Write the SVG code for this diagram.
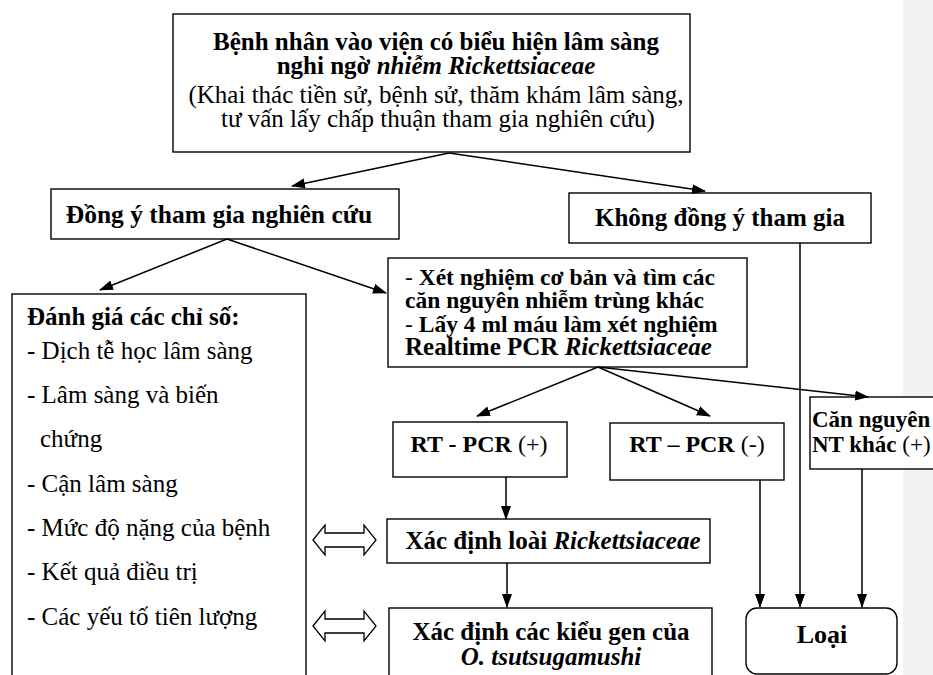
<svg xmlns="http://www.w3.org/2000/svg" width="933" height="675" viewBox="0 0 933 675">
<style>
.box{fill:#fff;stroke:#000;stroke-width:1.4}
.t{font-family:'Liberation Serif','Tinos','Times New Roman','Nimbus Roman','DejaVu Serif',serif;font-size:25px;fill:#000}
.b{font-weight:bold}
.i{font-style:italic}
.n{font-weight:normal}
.m{text-anchor:middle}
.s235{font-size:23.5px}
.s24{font-size:24px}
.s23{font-size:23px}
.s255{font-size:25.5px}
.s26{font-size:26px}
.c{fill:none;stroke:#000;stroke-width:1.5}
.dbl{fill:#fff;stroke:#000;stroke-width:1.3}
</style>
<defs>
<marker id="ah" markerWidth="14" markerHeight="10" refX="13" refY="5" orient="auto" markerUnits="userSpaceOnUse">
<path d="M0,0 L14,5 L0,10 z" fill="#000"/>
</marker>
</defs>
<rect x="0" y="0" width="933" height="675" fill="#fff"/>
<rect x="903" y="0" width="30" height="675" fill="#f2f2f2"/>

<g id="n-start">
<rect class="box" x="173" y="14" width="517" height="138"/>
<text class="t b m" x="436" y="50">Bệnh nhân vào viện có biểu hiện lâm sàng</text>
<text class="t b m" x="436" y="74">nghi ngờ <tspan class="i">nhiễm Rickettsiaceae</tspan></text>
<text class="t m" x="436" y="103">(Khai thác tiền sử, bệnh sử, thăm khám lâm sàng,</text>
<text class="t m" x="438" y="127">tư vấn lấy chấp thuận tham gia nghiên cứu)</text>
</g>

<g id="n-dongy">
<rect class="box" x="51" y="189" width="348" height="50"/>
<text class="t b m s255" x="219" y="223">Đồng ý tham gia nghiên cứu</text>
</g>

<g id="n-khong">
<rect class="box" x="569" y="193" width="302" height="50"/>
<text class="t b m" x="720" y="226">Không đồng ý tham gia</text>
</g>

<g id="n-danhgia">
<rect class="box" x="12" y="294" width="294" height="400"/>
<text class="t b" x="27" y="325">Đánh giá các chỉ số:</text>
<text class="t" x="27" y="359">- Dịch tễ học lâm sàng</text>
<text class="t" x="27" y="403">- Lâm sàng và biến</text>
<text class="t" x="40" y="447">chứng</text>
<text class="t" x="27" y="492">- Cận lâm sàng</text>
<text class="t" x="27" y="536">- Mức độ nặng của bệnh</text>
<text class="t" x="27" y="580">- Kết quả điều trị</text>
<text class="t" x="27" y="625">- Các yếu tố tiên lượng</text>
</g>

<g id="n-xetnghiem">
<rect class="box" x="388" y="258" width="359" height="109"/>
<text class="t b s235" x="405" y="285"><tspan class="n">- </tspan>Xét nghiệm cơ bản và tìm các</text>
<text class="t b s235" x="405" y="308">căn nguyên nhiễm trùng khác</text>
<text class="t b s235" x="405" y="332"><tspan class="n">- </tspan>Lấy 4 ml máu làm xét nghiệm</text>
<text class="t b" x="405" y="355">Realtime PCR <tspan class="i">Rickettsiaceae</tspan></text>
</g>

<g id="n-rtpos">
<rect class="box" x="393" y="422" width="174" height="55"/>
<text class="t b m s24" x="479" y="452">RT - PCR <tspan class="n">(+)</tspan></text>
</g>

<g id="n-rtneg">
<rect class="box" x="610" y="423" width="174" height="57"/>
<text class="t b m s24" x="697" y="452">RT – PCR <tspan class="n">(-)</tspan></text>
</g>

<g id="n-cannguyen">
<rect class="box" x="810" y="397" width="140" height="72"/>
<text class="t b s23" x="812" y="427">Căn nguyên</text>
<text class="t b s23" x="812" y="452">NT khác <tspan class="n">(+)</tspan></text>
</g>

<g id="n-loai">
<rect class="box" x="387" y="519" width="323" height="44"/>
<text class="t b m" x="553" y="549">Xác định loài <tspan class="i">Rickettsiaceae</tspan></text>
</g>

<g id="n-kieugen">
<rect class="box" x="389" y="608" width="323" height="90"/>
<text class="t b m" x="551" y="640">Xác định các kiểu gen của</text>
<text class="t b i m" x="551" y="665">O. tsutsugamushi</text>
</g>

<g id="n-exclude">
<rect class="box" x="746" y="608" width="151" height="66" rx="11" ry="11"/>
<text class="t b m s26" x="822" y="643">Loại</text>
</g>

<g id="double-arrows">
<polygon class="dbl" points="313,540 325,525 325,533 364,533 364,525 376,540 364,555 364,547 325,547 325,555"/>
<polygon class="dbl" points="313,626 325,611 325,619 364,619 364,611 376,626 364,641 364,633 325,633 325,641"/>
</g>

<g id="connectors">
<line class="c" x1="449" y1="153" x2="292" y2="186" marker-end="url(#ah)"/>
<line class="c" x1="449" y1="153" x2="705" y2="191" marker-end="url(#ah)"/>
<line class="c" x1="227" y1="239" x2="100" y2="290" marker-end="url(#ah)"/>
<line class="c" x1="227" y1="239" x2="386" y2="293" marker-end="url(#ah)"/>
<line class="c" x1="598" y1="367" x2="477" y2="416" marker-end="url(#ah)"/>
<line class="c" x1="598" y1="367" x2="710" y2="416" marker-end="url(#ah)"/>
<line class="c" x1="598" y1="367" x2="868" y2="397" marker-end="url(#ah)"/>
<line class="c" x1="506" y1="477" x2="506" y2="519" marker-end="url(#ah)"/>
<line class="c" x1="507" y1="563" x2="507" y2="607" marker-end="url(#ah)"/>
<line class="c" x1="760" y1="480" x2="760" y2="607" marker-end="url(#ah)"/>
<line class="c" x1="800" y1="243" x2="800" y2="607" marker-end="url(#ah)"/>
<line class="c" x1="862" y1="469" x2="862" y2="607" marker-end="url(#ah)"/>
</g>
</svg>
